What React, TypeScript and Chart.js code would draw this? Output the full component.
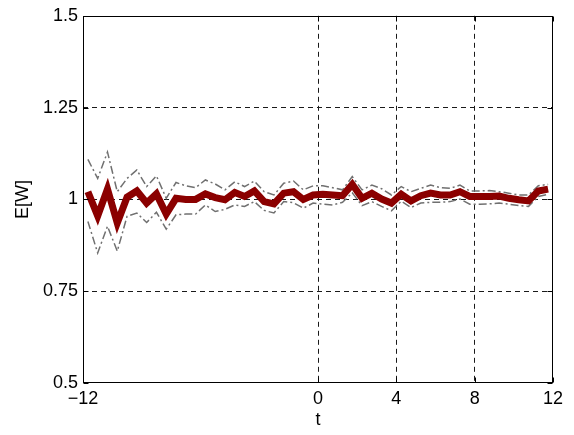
import React, { useEffect, useRef } from "react";
import { Chart, registerables } from "chart.js";

Chart.register(...registerables);

const tValues = [
  -11.75, -11.25, -10.75, -10.25, -9.75, -9.25, -8.75, -8.25, -7.75, -7.25, -6.75, -6.25,
  -5.75, -5.25, -4.75, -4.25, -3.75, -3.25, -2.75, -2.25, -1.75, -1.25, -0.75, -0.25,
  0.25, 0.75, 1.25, 1.75, 2.25, 2.75, 3.25, 3.75, 4.25, 4.75, 5.25, 5.75,
  6.25, 6.75, 7.25, 7.75, 8.25, 8.75, 9.25, 9.75, 10.25, 10.75, 11.25, 11.75,
];

const meanW = [
  1.021, 0.955, 1.028, 0.936, 1.006, 1.023, 0.99, 1.015, 0.96, 1.003, 1.0, 1.0,
  1.015, 1.005, 0.999, 1.019, 1.008, 1.023, 0.994, 0.988, 1.017, 1.021, 1.0, 1.012,
  1.014, 1.012, 1.01, 1.041, 1.003, 1.017, 1.001, 0.99, 1.014, 0.996, 1.01, 1.017,
  1.012, 1.012, 1.021, 1.008, 1.008, 1.008, 1.009, 1.003, 0.999, 0.996, 1.023, 1.028,
];

const upperW = [
  1.109, 1.057, 1.129, 1.021, 1.057, 1.08, 1.035, 1.064, 1.003, 1.046, 1.037, 1.032,
  1.053, 1.042, 1.026, 1.048, 1.035, 1.05, 1.021, 1.012, 1.044, 1.05, 1.026, 1.037,
  1.037, 1.032, 1.026, 1.062, 1.026, 1.039, 1.029, 1.012, 1.035, 1.021, 1.03, 1.039,
  1.032, 1.03, 1.039, 1.023, 1.023, 1.024, 1.021, 1.017, 1.012, 1.012, 1.037, 1.041,
];

const lowerW = [
  0.94, 0.854, 0.927, 0.859, 0.954, 0.963, 0.937, 0.965, 0.919, 0.958, 0.96, 0.96,
  0.985, 0.967, 0.973, 0.985, 0.981, 0.994, 0.97, 0.963, 0.994, 0.991, 0.976, 0.99,
  0.987, 0.985, 0.992, 1.018, 0.983, 0.994, 0.981, 0.969, 0.995, 0.978, 0.99, 0.992,
  0.992, 0.994, 1.001, 0.987, 0.987, 0.988, 0.99, 0.987, 0.983, 0.981, 1.008, 1.014,
];

const xTicks = [-12, 0, 4, 8, 12];
const yTicks = [0.5, 0.75, 1, 1.25, 1.5];
const xTitle = "t";
const yTitle = "E[W]";

const FONT = "'Liberation Sans', Arial, Helvetica, sans-serif";
const FONT_SIZE = 18;

const boxPlugin = {
  id: "matlabBox",
  afterDraw(chart: any) {
    const { ctx, chartArea: a, scales } = chart;
    const l = Math.round(a.left) + 0.5;
    const r = Math.round(a.right) - 0.5;
    const t = Math.round(a.top) + 0.5;
    const b = Math.round(a.bottom) - 0.5;
    ctx.save();
    ctx.strokeStyle = "#000";
    ctx.lineWidth = 1;
    ctx.setLineDash([]);
    ctx.strokeRect(l, t, r - l, b - t);
    const tick = 5;
    ctx.beginPath();
    for (const v of xTicks) {
      const x = Math.round(scales.x.getPixelForValue(v)) + 0.5;
      ctx.moveTo(x, b);
      ctx.lineTo(x, b - tick);
      ctx.moveTo(x, t);
      ctx.lineTo(x, t + tick);
    }
    for (const v of yTicks) {
      const y = Math.round(scales.y.getPixelForValue(v)) + 0.5;
      ctx.moveTo(l, y);
      ctx.lineTo(l + tick, y);
      ctx.moveTo(r, y);
      ctx.lineTo(r - tick, y);
    }
    ctx.stroke();
    ctx.restore();
  },
};

const fmt = (v: number) => (v < 0 ? "\u2212" + Math.abs(v) : String(v));

export default function App() {
  const ref = useRef<HTMLCanvasElement | null>(null);

  useEffect(() => {
    if (!ref.current) return;
    const interiorColor = (vals: number[]) => (c: any) => {
      const v = c.tick ? c.tick.value : null;
      if (v === null || v === vals[0] || v === vals[vals.length - 1]) return "rgba(0,0,0,0)";
      return "#1a1a1a";
    };
    const chart = new Chart(ref.current, {
      type: "line",
      data: {
        datasets: [
          {
            label: "mean",
            data: tValues.map((t, i) => ({ x: t, y: meanW[i] })),
            borderColor: "#8b0000",
            borderWidth: 7,
            pointRadius: 0,
            tension: 0,
            borderJoinStyle: "miter",
            order: 0,
          },
          {
            label: "upper",
            data: tValues.map((t, i) => ({ x: t, y: upperW[i] })),
            borderColor: "#707070",
            borderWidth: 1.5,
            borderDash: [8, 3, 2, 3],
            pointRadius: 0,
            tension: 0,
            order: 1,
          },
          {
            label: "lower",
            data: tValues.map((t, i) => ({ x: t, y: lowerW[i] })),
            borderColor: "#707070",
            borderWidth: 1.5,
            borderDash: [8, 3, 2, 3],
            pointRadius: 0,
            tension: 0,
            order: 2,
          },
        ],
      },
      options: {
        animation: false,
        responsive: false,
        maintainAspectRatio: false,
        events: [],
        layout: { padding: { top: 13, right: 21, left: 0, bottom: 0 } },
        plugins: { legend: { display: false }, tooltip: { enabled: false } },
        scales: {
          x: {
            type: "linear",
            min: -12,
            max: 12,
            afterBuildTicks: (s: any) => {
              s.ticks = xTicks.map((v) => ({ value: v }));
            },
            afterFit: (s: any) => {
              s.height = 52;
            },
            grid: { color: interiorColor(xTicks), lineWidth: 1, drawTicks: false },
            border: { display: false, dash: [5, 4] },
            ticks: {
              color: "#000",
              font: { family: FONT, size: FONT_SIZE },
              padding: 5,
              maxRotation: 0,
              autoSkip: false,
              callback: (v: any) => fmt(Number(v)),
            },
            title: {
              display: true,
              text: xTitle,
              color: "#000",
              font: { family: FONT, size: FONT_SIZE },
              padding: { top: 0, bottom: 4 },
            },
          },
          y: {
            type: "linear",
            min: 0.5,
            max: 1.5,
            afterBuildTicks: (s: any) => {
              s.ticks = yTicks.map((v) => ({ value: v }));
            },
            afterFit: (s: any) => {
              s.width = 83;
            },
            grid: { color: interiorColor(yTicks), lineWidth: 1, drawTicks: false },
            border: { display: false, dash: [5, 4] },
            ticks: {
              color: "#000",
              font: { family: FONT, size: FONT_SIZE },
              padding: 5,
              autoSkip: false,
              callback: (v: any) => String(v),
            },
            title: {
              display: true,
              text: yTitle,
              color: "#000",
              font: { family: FONT, size: FONT_SIZE },
              padding: { top: 12, bottom: 0 },
            },
          },
        },
      },
      plugins: [boxPlugin],
    } as any);
    return () => chart.destroy();
  }, []);

  return (
    <div style={{ position: "fixed", left: 0, top: 0, width: 574, height: 435, background: "#fff" }}>
      <canvas ref={ref} width={574} height={435} style={{ width: 574, height: 435, display: "block" }} />
    </div>
  );
}
